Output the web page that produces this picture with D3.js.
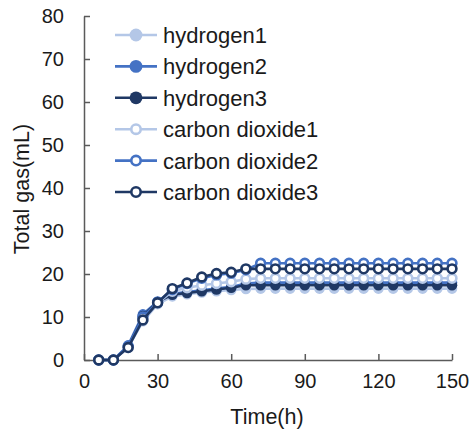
<!DOCTYPE html>
<html><head><meta charset="utf-8">
<script src="https://cdn.jsdelivr.net/npm/d3@7"></script>
<style>body{margin:0;background:#fff}svg{display:block}text{font-family:"Liberation Sans",Arial,sans-serif;fill:#1a1a1a}</style>
</head><body><svg id="c" width="472" height="432"></svg>
<script>
const times = [6,12,18,24,30,36,42,48,54,60,66,72,78,84,90,96,102,108,114,120,126,132,138,144,150];
const hydrogen1 = [0,0,3.0,9.0,13.0,14.8,15.3,15.7,16.0,16.3,16.5,16.6,16.6,16.6,16.6,16.6,16.6,16.6,16.6,16.6,16.6,16.6,16.6,16.6,16.6];
const hydrogen2 = [0,0,3.4,10.6,13.6,15.4,15.8,16.2,16.6,17.0,17.8,18.0,18.0,18.0,18.0,18.0,18.0,18.0,18.0,18.0,18.0,18.0,18.0,18.0,18.0];
const hydrogen3 = [0,0,3.0,10.2,13.5,15.2,15.6,16.0,16.4,16.8,17.4,17.4,17.4,17.4,17.4,17.4,17.4,17.4,17.4,17.4,17.4,17.4,17.4,17.4,17.4];
const carbonDioxide1 = [0,0,2.9,9.4,13.2,16.0,16.8,17.4,17.8,18.2,18.8,19.0,19.0,19.0,19.0,19.0,19.0,19.0,19.0,19.0,19.0,19.0,19.0,19.0,19.0];
const carbonDioxide2 = [0,0,3.2,10.0,13.4,16.4,17.8,19.0,19.8,20.2,21.0,22.5,22.5,22.5,22.5,22.5,22.5,22.5,22.5,22.5,22.5,22.5,22.5,22.5,22.5];
const carbonDioxide3 = [0,0,2.9,9.3,13.3,16.6,17.9,19.3,20.1,20.4,21.2,21.2,21.2,21.2,21.2,21.2,21.2,21.2,21.2,21.2,21.2,21.2,21.2,21.2,21.2];
const seriesNames = ["hydrogen1","hydrogen2","hydrogen3","carbon dioxide1","carbon dioxide2","carbon dioxide3"];
const xTicks = [0,30,60,90,120,150];
const yTicks = [0,10,20,30,40,50,60,70,80];

const colors = ["#b4c7e7","#4472c4","#1f3864","#b4c7e7","#4472c4","#1f3864"];
const hollow = [false,false,false,true,true,true];
const allValues = [hydrogen1,hydrogen2,hydrogen3,carbonDioxide1,carbonDioxide2,carbonDioxide3];
const series = seriesNames.map((n,i)=>({name:n,color:colors[i],hollow:hollow[i],values:allValues[i].map((v,j)=>({t:times[j],v}))}));

const svg = d3.select("#c");
const x = d3.scaleLinear().domain([0,150]).range([84,452]);
const y = d3.scaleLinear().domain([0,80]).range([360,16]);
const axisColor = "#5a5a5a";

const gx = svg.append("g").attr("transform","translate(0,360)")
  .call(d3.axisBottom(x).tickValues(xTicks).tickSizeInner(-6).tickSizeOuter(0).tickPadding(14));
const gy = svg.append("g").attr("transform","translate(84,0)")
  .call(d3.axisLeft(y).tickValues(yTicks).tickSizeInner(-6).tickSizeOuter(0).tickPadding(20));
[gx,gy].forEach(g=>{
  g.select(".domain").attr("stroke",axisColor).attr("stroke-width",1.5);
  g.selectAll(".tick line").attr("stroke",axisColor).attr("stroke-width",1.5);
  g.selectAll(".tick text").style("font-size","20px").attr("fill","#1a1a1a").style("font-family",'"Liberation Sans",Arial,sans-serif');
});
gx.selectAll(".tick text").attr("dy","0.72em");

svg.append("text").attr("x",267).attr("y",424).attr("text-anchor","middle").style("font-size","21.5px").text("Time(h)");
svg.append("text").attr("transform","translate(29,189) rotate(-90)").attr("text-anchor","middle").style("font-size","21.5px").text("Total gas(mL)");

const line = d3.line().x(d=>x(d.t)).y(d=>y(d.v));
series.forEach(s=>{
  const g = svg.append("g");
  g.append("path").datum(s.values).attr("d",line).attr("fill","none").attr("stroke",s.color).attr("stroke-width",2.6);
  g.selectAll("circle").data(s.values).join("circle")
    .attr("cx",d=>x(d.t)).attr("cy",d=>y(d.v)).attr("r",s.hollow?4.4:5.3)
    .attr("fill",s.hollow?"#fff":s.color).attr("stroke",s.color).attr("stroke-width",s.hollow?2.6:0);
});

const leg = svg.append("g");
series.forEach((s,i)=>{
  const cy = 35 + i*31.4;
  leg.append("line").attr("x1",115).attr("x2",157).attr("y1",cy).attr("y2",cy).attr("stroke",s.color).attr("stroke-width",2.6);
  leg.append("circle").attr("cx",136).attr("cy",cy).attr("r",s.hollow?4.7:6.4)
    .attr("fill",s.hollow?"#fff":s.color).attr("stroke",s.color).attr("stroke-width",s.hollow?2.6:0);
  leg.append("text").attr("x",163).attr("y",cy).attr("dy","0.36em").style("font-size","22px").text(s.name);
});
</script></body></html>
